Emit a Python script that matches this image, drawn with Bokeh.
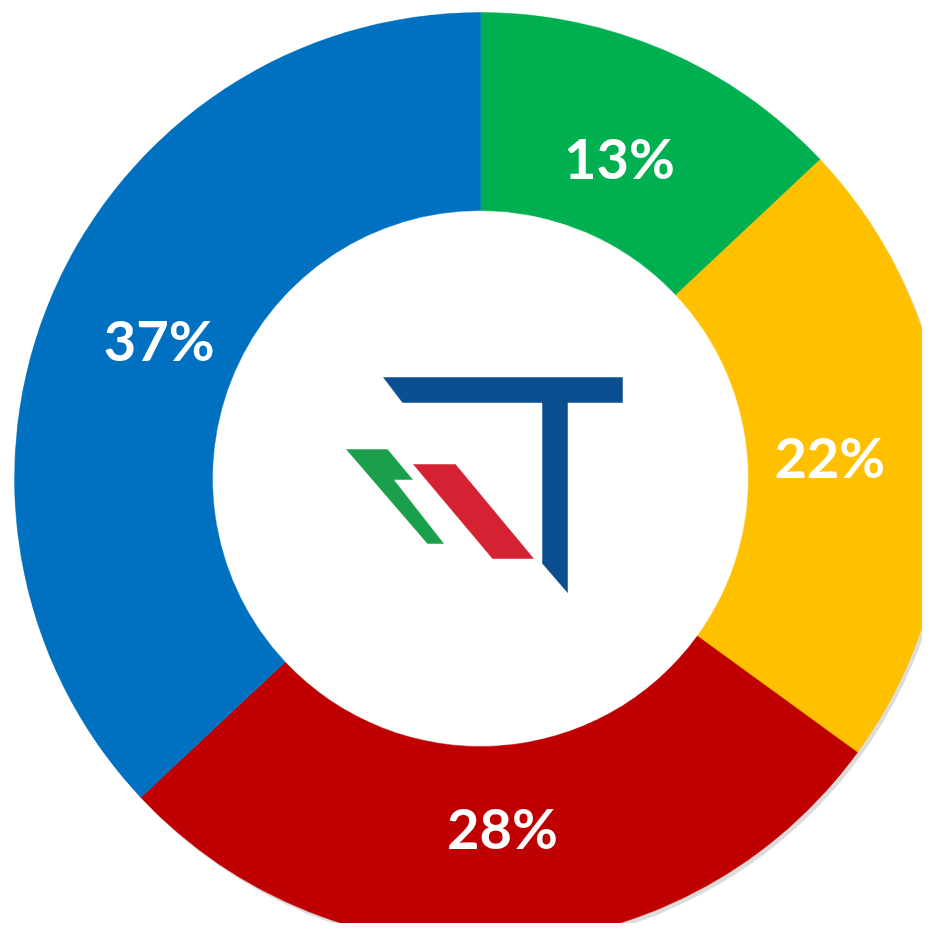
import math
from bokeh.plotting import figure
from bokeh.models import Range1d, ColumnDataSource
from bokeh.core.properties import value
from bokeh.embed import file_html
from bokeh.resources import INLINE

# data
categories = ["A", "B", "C", "D"]
shares = [13, 22, 28, 37]
colors = ["#00B050", "#FFC000", "#C00000", "#0070C0"]

W, H = 922, 923
p = figure(width=W, height=H, output_backend="svg", toolbar_location=None,
           x_range=Range1d(0, W), y_range=Range1d(-H, 0),
           min_border=0, match_aspect=False)
p.axis.visible = False
p.grid.visible = False
p.outline_line_color = None
p.background_fill_color = "white"
p.border_fill_color = "white"

cx, cy = 480, -478
r_out, r_in = 466, 268

total = sum(shares)
starts, ends, lx, ly, labels = [], [], [], [], []
cum = 0
for v in shares:
    a0 = math.pi / 2 - 2 * math.pi * cum / total
    cum += v
    a1 = math.pi / 2 - 2 * math.pi * cum / total
    starts.append(a0)
    ends.append(a1)
    mid = (a0 + a1) / 2
    lr = 350
    lx.append(cx + lr * math.cos(mid))
    ly.append(cy + lr * math.sin(mid))
    labels.append(f"{v}%")

# subtle shadow on the outer edge
p.annulus(x=[cx + 3], y=[cy - 4], inner_radius=r_in + 20, outer_radius=r_out,
          fill_color="#9a9a9a", fill_alpha=0.35, line_color=None)

src = ColumnDataSource(dict(cat=categories, start=starts, end=ends, color=colors))
p.annular_wedge(x=cx, y=cy, inner_radius=r_in, outer_radius=r_out,
                start_angle="start", end_angle="end", direction="clock",
                fill_color="color", line_color="color", line_width=0.5, source=src)

p.text(x=lx, y=ly, text=labels, text_align="center", text_baseline="middle",
       text_font=value("Lato"), text_font_style="bold", text_font_size="56px",
       text_color="white")

# logo (decorative)
def flip(pts):
    return [x for x, _ in pts], [-y for _, y in pts]

t_bar = [(383, 377), (622, 377), (622, 402), (402, 402)]
t_stem = [(542, 401), (567, 401), (567, 592), (542, 563)]
g_shape = [(346, 449), (387, 449), (412, 479), (393, 479), (443, 543), (427, 543)]
r_shape = [(413, 464), (455, 464), (533, 558), (492, 558)]
for pts, col in [(t_bar, "#0A4F8F"), (t_stem, "#0A4F8F"), (g_shape, "#1AA04A"), (r_shape, "#D42232")]:
    xs, ys = flip(pts)
    p.patch(xs, ys, fill_color=col, line_color=col, line_width=0.5)

open("out.html", "w").write(file_html(p, INLINE))
